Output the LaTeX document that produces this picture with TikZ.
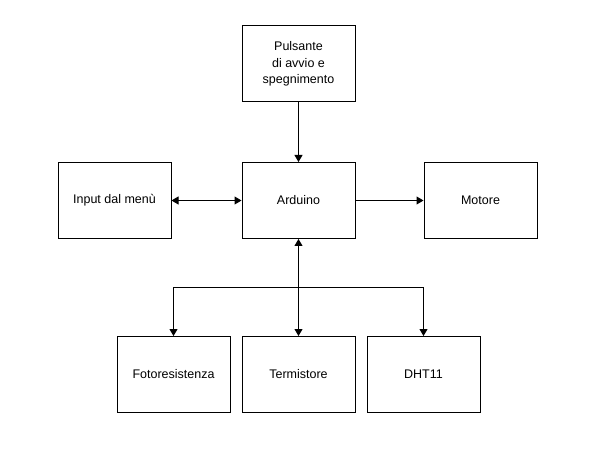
\documentclass[tikz,border=0pt]{standalone}
\usepackage{fontspec}
\setmainfont{Liberation Sans}
\usetikzlibrary{arrows.meta}

\begin{document}
\begin{tikzpicture}[x=1pt,y=-1pt,
  blocco/.style={draw,line width=1pt,minimum width=113pt,minimum height=76pt,
    inner sep=0pt,align=center,font=\fontsize{12.5}{16.5}\selectfont},
  freccia/.style={line width=1pt,-{Triangle[length=7pt,width=8pt]}},
  doppia/.style={line width=1pt,{Triangle[length=7pt,width=8pt]}-{Triangle[length=7pt,width=8pt]}}]
\useasboundingbox (0,0) rectangle (605,454);

\node [blocco] (puls) at (298.5,64) {Pulsante\\di avvio e\\spegnimento};
\node [blocco] (input) at (114.5,200.5) {Input dal menù};
\node [blocco] (ard) at (298.5,200.5) {Arduino};
\node [blocco] (mot) at (480.5,200.5) {Motore};
\node [blocco] (foto) at (173.5,374.5) {Fotoresistenza};
\node [blocco] (term) at (298.5,374.5) {Termistore};
\node [blocco] (dht) at (423.5,374.5) {DHT11};

\coordinate (nodo) at (298.5,288);

\draw [freccia] (puls) -- (ard);
\draw [doppia] (input) -- (ard);
\draw [freccia] (ard) -- (mot);
\draw [doppia] (ard) -- (term);
\draw [freccia] (nodo) -| (foto);
\draw [freccia] (nodo) -| (dht);
\end{tikzpicture}
\end{document}
